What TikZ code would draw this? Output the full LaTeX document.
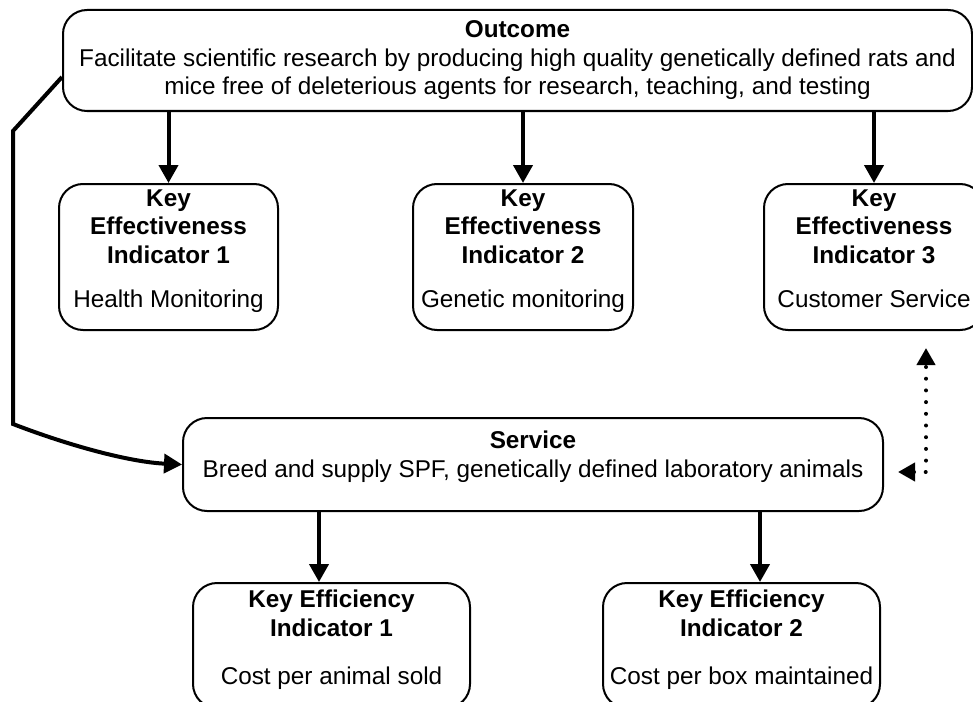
\documentclass[tikz,border=0pt]{standalone}
\usepackage{fontspec}
\setmainfont{Liberation Sans}
\usetikzlibrary{arrows.meta,positioning,calc}

\begin{document}
\begin{tikzpicture}[
    x=0.5pt, y=-0.5pt,
    box/.style={draw, line width=1pt, rounded corners=12pt, inner sep=0pt},
    txt/.style={font=\fontsize{12.15}{14.4}\selectfont, align=center, inner sep=0pt, anchor=base},
    arrow/.style={-{Triangle[length=9pt, width=9.5pt]}, line width=2pt},
    dotarrow/.style={{Triangle[length=8.5pt, width=9pt]}-{Triangle[length=8.5pt, width=9pt]}, line width=2pt, dash pattern=on 0pt off 5.85pt, line cap=round}
]
\useasboundingbox (0,0) rectangle (973,701);

% outcome and effectiveness indicators
\node[box, minimum width=454.5pt, minimum height=50.5pt] (outcome) at (517.5,60.5) {};
\node[txt] (outcomet) at ([yshift=-43pt]outcome.north) {\textbf{Outcome}\\Facilitate scientific research by producing high quality genetically defined rats and\\mice free of deleterious agents for research, teaching, and testing};

\node[box, minimum width=109.5pt, minimum height=73pt] (kei1) at (168.5,257) {};
\node[txt] (kei1t) at ([yshift=-62.2pt]kei1.north) {\textbf{Key}\\\textbf{Effectiveness}\\\textbf{Indicator 1}\\[7.5pt]Health Monitoring};

\node[box, minimum width=110pt, minimum height=73pt] (kei2) at (523,257) {};
\node[txt] (kei2t) at ([yshift=-62.2pt]kei2.north) {\textbf{Key}\\\textbf{Effectiveness}\\\textbf{Indicator 2}\\[7.5pt]Genetic monitoring};

\node[box, minimum width=110pt, minimum height=73pt] (kei3) at (874,257) {};
\node[txt] (kei3t) at ([yshift=-62.2pt]kei3.north) {\textbf{Key}\\\textbf{Effectiveness}\\\textbf{Indicator 3}\\[7.5pt]Customer Service};

% service and efficiency indicators
\node[box, minimum width=350pt, minimum height=46.5pt] (service) at (533,464.5) {};
\node[txt] (servicet) at ([yshift=-30.2pt]service.north) {\textbf{Service}\\Breed and supply SPF, genetically defined laboratory animals};

\node[box, minimum width=138.5pt, minimum height=62.5pt] (keff1) at (331.5,645.5) {};
\node[txt] (keff1t) at ([yshift=-51.2pt]keff1.north) {\textbf{Key Efficiency}\\\textbf{Indicator 1}\\[9.5pt]Cost per animal sold};

\node[box, minimum width=138.5pt, minimum height=62.5pt] (keff2) at (741.5,645.5) {};
\node[txt] (keff2t) at ([yshift=-51.2pt]keff2.north) {\textbf{Key Efficiency}\\\textbf{Indicator 2}\\[9.5pt]Cost per box maintained};

\coordinate (bend1) at (13,131);
\coordinate (bend2) at (13,424);

\draw[arrow] (outcome.south -| kei1.north) -- (kei1.north);
\draw[arrow] (outcome.south -| kei2.north) -- (kei2.north);
\draw[arrow] (outcome.south -| kei3.north) -- (kei3.north);

\draw[arrow] ([yshift=-8.25pt]outcome.west) -- (bend1) -- (bend2) .. controls (70,446) and (130,462) .. (service.west);

\draw[arrow] ([xshift=-107pt]service.south) -- ([xshift=-107pt]service.south |- keff1.north);
\draw[arrow] ([xshift=113.5pt]service.south) -- ([xshift=113.5pt]service.south |- keff2.north);

\draw[dotarrow] ([xshift=7pt, yshift=-3.75pt]service.east) -| ([xshift=26pt, yshift=-8.5pt]kei3.south);

\end{tikzpicture}
\end{document}
